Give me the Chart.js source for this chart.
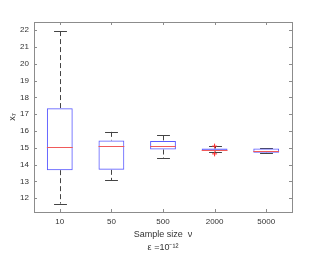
<!DOCTYPE html>
<html>
<head>
<meta charset="utf-8">
<script src="https://cdn.jsdelivr.net/npm/chart.js@4"></script>
<style>
  html, body { margin: 0; padding: 0; background: #fff; }
  #wrap { width: 313px; height: 256px; }
</style>
</head>
<body>
<div id="wrap"><canvas id="boxChart" width="313" height="256"></canvas></div>
<script>
// Datos
const categories = ['10', '50', '500', '2000', '5000'];
const whiskerLow = [11.68, 13.07, 14.37, 14.78, 14.68];
const q1 = [13.67, 13.69, 14.90, 14.82, 14.70];
const median = [15.02, 15.08, 15.12, 14.88, 14.84];
const q3 = [17.35, 15.44, 15.40, 14.96, 14.96];
const whiskerHigh = [21.95, 15.95, 15.74, 15.08, 14.98];
const outlierCats = ['2000', '2000'];
const outlierVals = [15.10, 14.64];
const yTicks = [12, 13, 14, 15, 16, 17, 18, 19, 20, 21, 22];

const axisGray = '#8c8c8c';
const textColor = '#333';

// Bigotes, medianas, marco y marcas interiores
const boxExtras = {
    id: 'boxExtras',
    beforeDatasetsDraw(chart) {
        const ctx = chart.ctx;
        const x = chart.scales.x, y = chart.scales.y;
        const capHalf = x.width / categories.length * 0.125;
        ctx.save();
        ctx.strokeStyle = '#444';
        ctx.lineWidth = 1;
        categories.forEach(function(c, i) {
            const px = Math.round(x.getPixelForValue(i)) + 0.5;
            ctx.setLineDash([5, 3]);
            ctx.beginPath();
            ctx.moveTo(px, y.getPixelForValue(whiskerHigh[i]));
            ctx.lineTo(px, y.getPixelForValue(q3[i]));
            ctx.moveTo(px, y.getPixelForValue(q1[i]));
            ctx.lineTo(px, y.getPixelForValue(whiskerLow[i]));
            ctx.stroke();
            ctx.setLineDash([]);
            ctx.beginPath();
            [whiskerHigh[i], whiskerLow[i]].forEach(function(v) {
                const py = Math.round(y.getPixelForValue(v)) + 0.5;
                ctx.moveTo(px - capHalf, py);
                ctx.lineTo(px + capHalf, py);
            });
            ctx.stroke();
        });
        ctx.restore();
    },
    afterDatasetsDraw(chart) {
        const ctx = chart.ctx;
        const x = chart.scales.x, y = chart.scales.y;
        const a = chart.chartArea;
        const boxHalf = x.width / categories.length * 0.25;
        ctx.save();
        ctx.strokeStyle = 'rgb(240,90,90)';
        ctx.lineWidth = 1;
        ctx.beginPath();
        categories.forEach(function(c, i) {
            const px = x.getPixelForValue(i);
            const py = Math.round(y.getPixelForValue(median[i])) + 0.5;
            ctx.moveTo(px - boxHalf, py);
            ctx.lineTo(px + boxHalf, py);
        });
        ctx.stroke();

        // marco
        ctx.strokeStyle = axisGray;
        ctx.strokeRect(Math.round(a.left) + 0.5, Math.round(a.top) + 0.5,
            Math.round(a.right - a.left), Math.round(a.bottom - a.top));
        ctx.beginPath();
        yTicks.forEach(function(v) {
            const py = Math.round(y.getPixelForValue(v)) + 0.5;
            ctx.moveTo(a.left, py); ctx.lineTo(a.left + 3, py);
            ctx.moveTo(a.right, py); ctx.lineTo(a.right - 3, py);
        });
        categories.forEach(function(c, i) {
            const px = Math.round(x.getPixelForValue(i)) + 0.5;
            ctx.moveTo(px, a.top); ctx.lineTo(px, a.top + 3);
            ctx.moveTo(px, a.bottom); ctx.lineTo(px, a.bottom - 3);
        });
        ctx.stroke();
        ctx.restore();
    }
};

const ctx = document.getElementById('boxChart').getContext('2d');
new Chart(ctx, {
    data: {
        labels: categories,
        datasets: [{
            type: 'bar',
            data: q1.map(function(v, i) { return [v, q3[i]]; }),
            backgroundColor: 'rgba(255,255,255,0)',
            borderColor: 'rgb(90,90,255)',
            borderWidth: 1,
            borderSkipped: false,
            barPercentage: 0.5,
            categoryPercentage: 1.0
        }, {
            type: 'scatter',
            data: outlierCats.map(function(c, i) { return { x: c, y: outlierVals[i] }; }),
            pointStyle: 'cross',
            radius: 2.5,
            borderColor: 'rgb(255,40,40)',
            borderWidth: 1,
            backgroundColor: 'rgb(255,40,40)'
        }]
    },
    options: {
        responsive: false,
        animation: false,
        layout: { padding: { top: 22, right: 21, left: 0, bottom: 2 } },
        plugins: { legend: { display: false }, tooltip: { enabled: false } },
        scales: {
            x: {
                type: 'category',
                offset: true,
                grid: { display: false, drawTicks: false },
                border: { display: false },
                ticks: { color: textColor, font: { family: 'Liberation Sans', size: 8 }, padding: 5 },
                title: {
                    display: true,
                    text: ['Sample size  \u03bd', '\u03b5 =10\u207b\u00b9\u00b2'],
                    color: textColor,
                    font: { family: 'Liberation Sans', size: 9, lineHeight: 1.45 },
                    padding: { top: 2, bottom: 0 }
                },
                afterFit: function(scale) { scale.height = 42; }
            },
            y: {
                min: 11.18,
                max: 22.49,
                grid: { display: false, drawTicks: false },
                border: { display: false },
                ticks: { color: textColor, font: { family: 'Liberation Sans', size: 8 }, padding: 5 },
                afterBuildTicks: function(scale) {
                    scale.ticks = yTicks.map(function(v) { return { value: v }; });
                },
                title: {
                    display: true,
                    text: 'x\u2087',
                    color: textColor,
                    font: { family: 'Liberation Sans', size: 9 },
                    padding: { top: 7, bottom: 0 }
                },
                afterFit: function(scale) { scale.width = 34; }
            }
        }
    },
    plugins: [boxExtras]
});
</script>
</body>
</html>
